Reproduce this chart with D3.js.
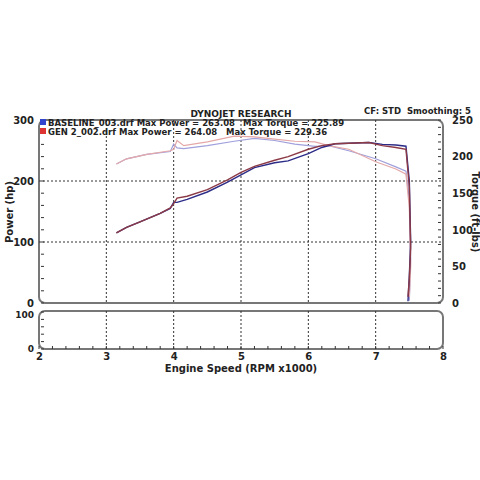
<!DOCTYPE html><html><head><script src="https://cdn.jsdelivr.net/npm/d3@7"></script>
<style>body{margin:0;background:#fff}text{font-family:Verdana,"DejaVu Sans",sans-serif;font-weight:bold;fill:#222;white-space:pre}</style></head><body>
<svg id="c" width="480" height="480"></svg>
<script>
const rpm=[3.15,3.3,3.5,3.8,3.95,4.0,4.05,4.2,4.5,4.8,5.0,5.2,5.5,5.7,6.0,6.2,6.4,6.6,6.9,7.1,7.3,7.45,7.5,7.52,7.5,7.48];
const basePower=[115,124,133,147,155,165,165,170,182,198,210,222,230,233,245,255,261,262,263,260,259,257,200,100,45,3];
const genPower=[115,124,133,147,156,163,172,175,186,202,214,224,234,240,252,258,261,262,263,258,255,252,190,90,40,10];
const tRpm=[3.15,3.3,3.6,3.95,4.0,4.05,4.15,4.5,4.9,5.2,5.5,5.8,6.1,6.3,6.6,7.0,7.3,7.45,7.5,7.52,7.5];
const baseTorque=[190,197,203,207,217,212,211,215,221,225,222,217,214,215,208,197,186,180,140,60,3];
const genTorque=[190,197,203,208,210,222,215,220,228,227,224,221,220,215,210,193,183,176,130,50,8];
const xTicks=[2,3,4,5,6,7,8];
const svg=d3.select("#c");
const x=d3.scaleLinear().domain([2,8]).range([39,443]);
const y=d3.scaleLinear().domain([0,300]).range([303,120]);
const yr=d3.scaleLinear().domain([0,250]).range([303,120]);
const y2=d3.scaleLinear().domain([0,100]).range([349,312]);
svg.append("rect").attr("x",39).attr("y",120).attr("width",404).attr("height",183).attr("rx",6).attr("fill","#fff").attr("stroke","#777").attr("stroke-width",2);
svg.append("rect").attr("x",39).attr("y",311).attr("width",404).attr("height",38).attr("rx",6).attr("fill","#fff").attr("stroke","#777").attr("stroke-width",2);
const g=svg.append("g");
[3,4,5,6,7].forEach(v=>{g.append("line").attr("x1",x(v)).attr("x2",x(v)).attr("y1",120).attr("y2",303).attr("stroke","#333").attr("stroke-dasharray","2,2");
g.append("line").attr("x1",x(v)).attr("x2",x(v)).attr("y1",311).attr("y2",349).attr("stroke","#333").attr("stroke-dasharray","2,2");});
[100,200].forEach(v=>g.append("line").attr("x1",39).attr("x2",443).attr("y1",y(v)).attr("y2",y(v)).attr("stroke","#333").attr("stroke-dasharray","2,2"));
const ax=svg.append("g").attr("transform","translate(0,349)").call(d3.axisBottom(x).tickValues(xTicks).tickSize(0).tickFormat(d3.format("d")));
ax.select(".domain").remove();ax.selectAll("text").attr("font-size",10).attr("dy",8);
svg.append("g").attr("transform","translate(39,0)").call(d3.axisLeft(y).tickValues([0,100,200,300]).tickSize(0)).call(a=>{a.select(".domain").remove();a.selectAll("text").attr("font-size",10).attr("dx",-2)});
svg.append("g").attr("transform","translate(443,0)").call(d3.axisRight(yr).tickValues([0,50,100,150,200,250]).tickSize(0)).call(a=>{a.select(".domain").remove();a.selectAll("text").attr("font-size",10).attr("dx",6)});
svg.append("g").attr("transform","translate(39,0)").call(d3.axisLeft(y2).tickValues([0,100]).tickSize(0)).call(a=>{a.select(".domain").remove();a.selectAll("text").attr("font-size",9).attr("dx",-2).attr("dy",(d)=>d==100?"0.6em":"0.32em")});
d3.range(2,8.01,0.2).forEach(v=>svg.append("line").attr("x1",x(v)).attr("x2",x(v)).attr("y1",346).attr("y2",349).attr("stroke","#333"));
d3.range(0,301,20).forEach(v=>svg.append("line").attr("x1",41).attr("x2",44).attr("y1",y(v)).attr("y2",y(v)).attr("stroke","#333"));
d3.range(0,251,10).forEach(v=>svg.append("line").attr("x1",438).attr("x2",441).attr("y1",yr(v)).attr("y2",yr(v)).attr("stroke","#333"));
d3.range(0,101,20).forEach(v=>svg.append("line").attr("x1",41).attr("x2",44).attr("y1",y2(v)).attr("y2",y2(v)).attr("stroke","#333"));
const line=(xs,ys,sc)=>d3.line().x((d,i)=>x(xs[i])).y(d=>sc(d))(ys);
const P=(xs,ys,sc,c,w)=>svg.append("path").attr("d",line(xs,ys,sc)).attr("fill","none").attr("stroke",c).attr("stroke-width",w);
P(tRpm,baseTorque,yr,"#a0a0dc",1.2);P(tRpm,genTorque,yr,"#e4a8a8",1.2);
P(rpm,basePower,y,"#2c2c88",1.4);P(rpm,genPower,y,"#8c3a46",1.4);
svg.append("text").attr("x",241).attr("y",117).attr("text-anchor","middle").attr("font-size",9).text("DYNOJET RESEARCH");
svg.append("text").attr("x",471).attr("y",114).attr("text-anchor","end").attr("font-size",8.5).text("CF: STD  Smoothing: 5");
svg.append("rect").attr("x",40).attr("y",119).attr("width",6).attr("height",6).attr("fill","#3344cc");
svg.append("rect").attr("x",40).attr("y",128).attr("width",6).attr("height",6).attr("fill","#dd3333");
svg.append("text").attr("x",48).attr("y",126).attr("font-size",8.5).text("BASELINE_003.drf Max Power = 263.08");
svg.append("text").attr("x",243).attr("y",126).attr("font-size",8.5).text("Max Torque = 225.89");
svg.append("text").attr("x",48).attr("y",135).attr("font-size",8.5).text("GEN 2_002.drf Max Power = 264.08");
svg.append("text").attr("x",226).attr("y",135).attr("font-size",8.5).text("Max Torque = 229.36");
svg.append("text").attr("x",241).attr("y",372).attr("text-anchor","middle").attr("font-size",10).text("Engine Speed (RPM x1000)");
svg.append("text").attr("transform","translate(13,212) rotate(-90)").attr("text-anchor","middle").attr("font-size",10).text("Power (hp)");
svg.append("text").attr("transform","translate(472,212) rotate(90)").attr("text-anchor","middle").attr("font-size",10).text("Torque (ft-lbs)");
</script></body></html>
